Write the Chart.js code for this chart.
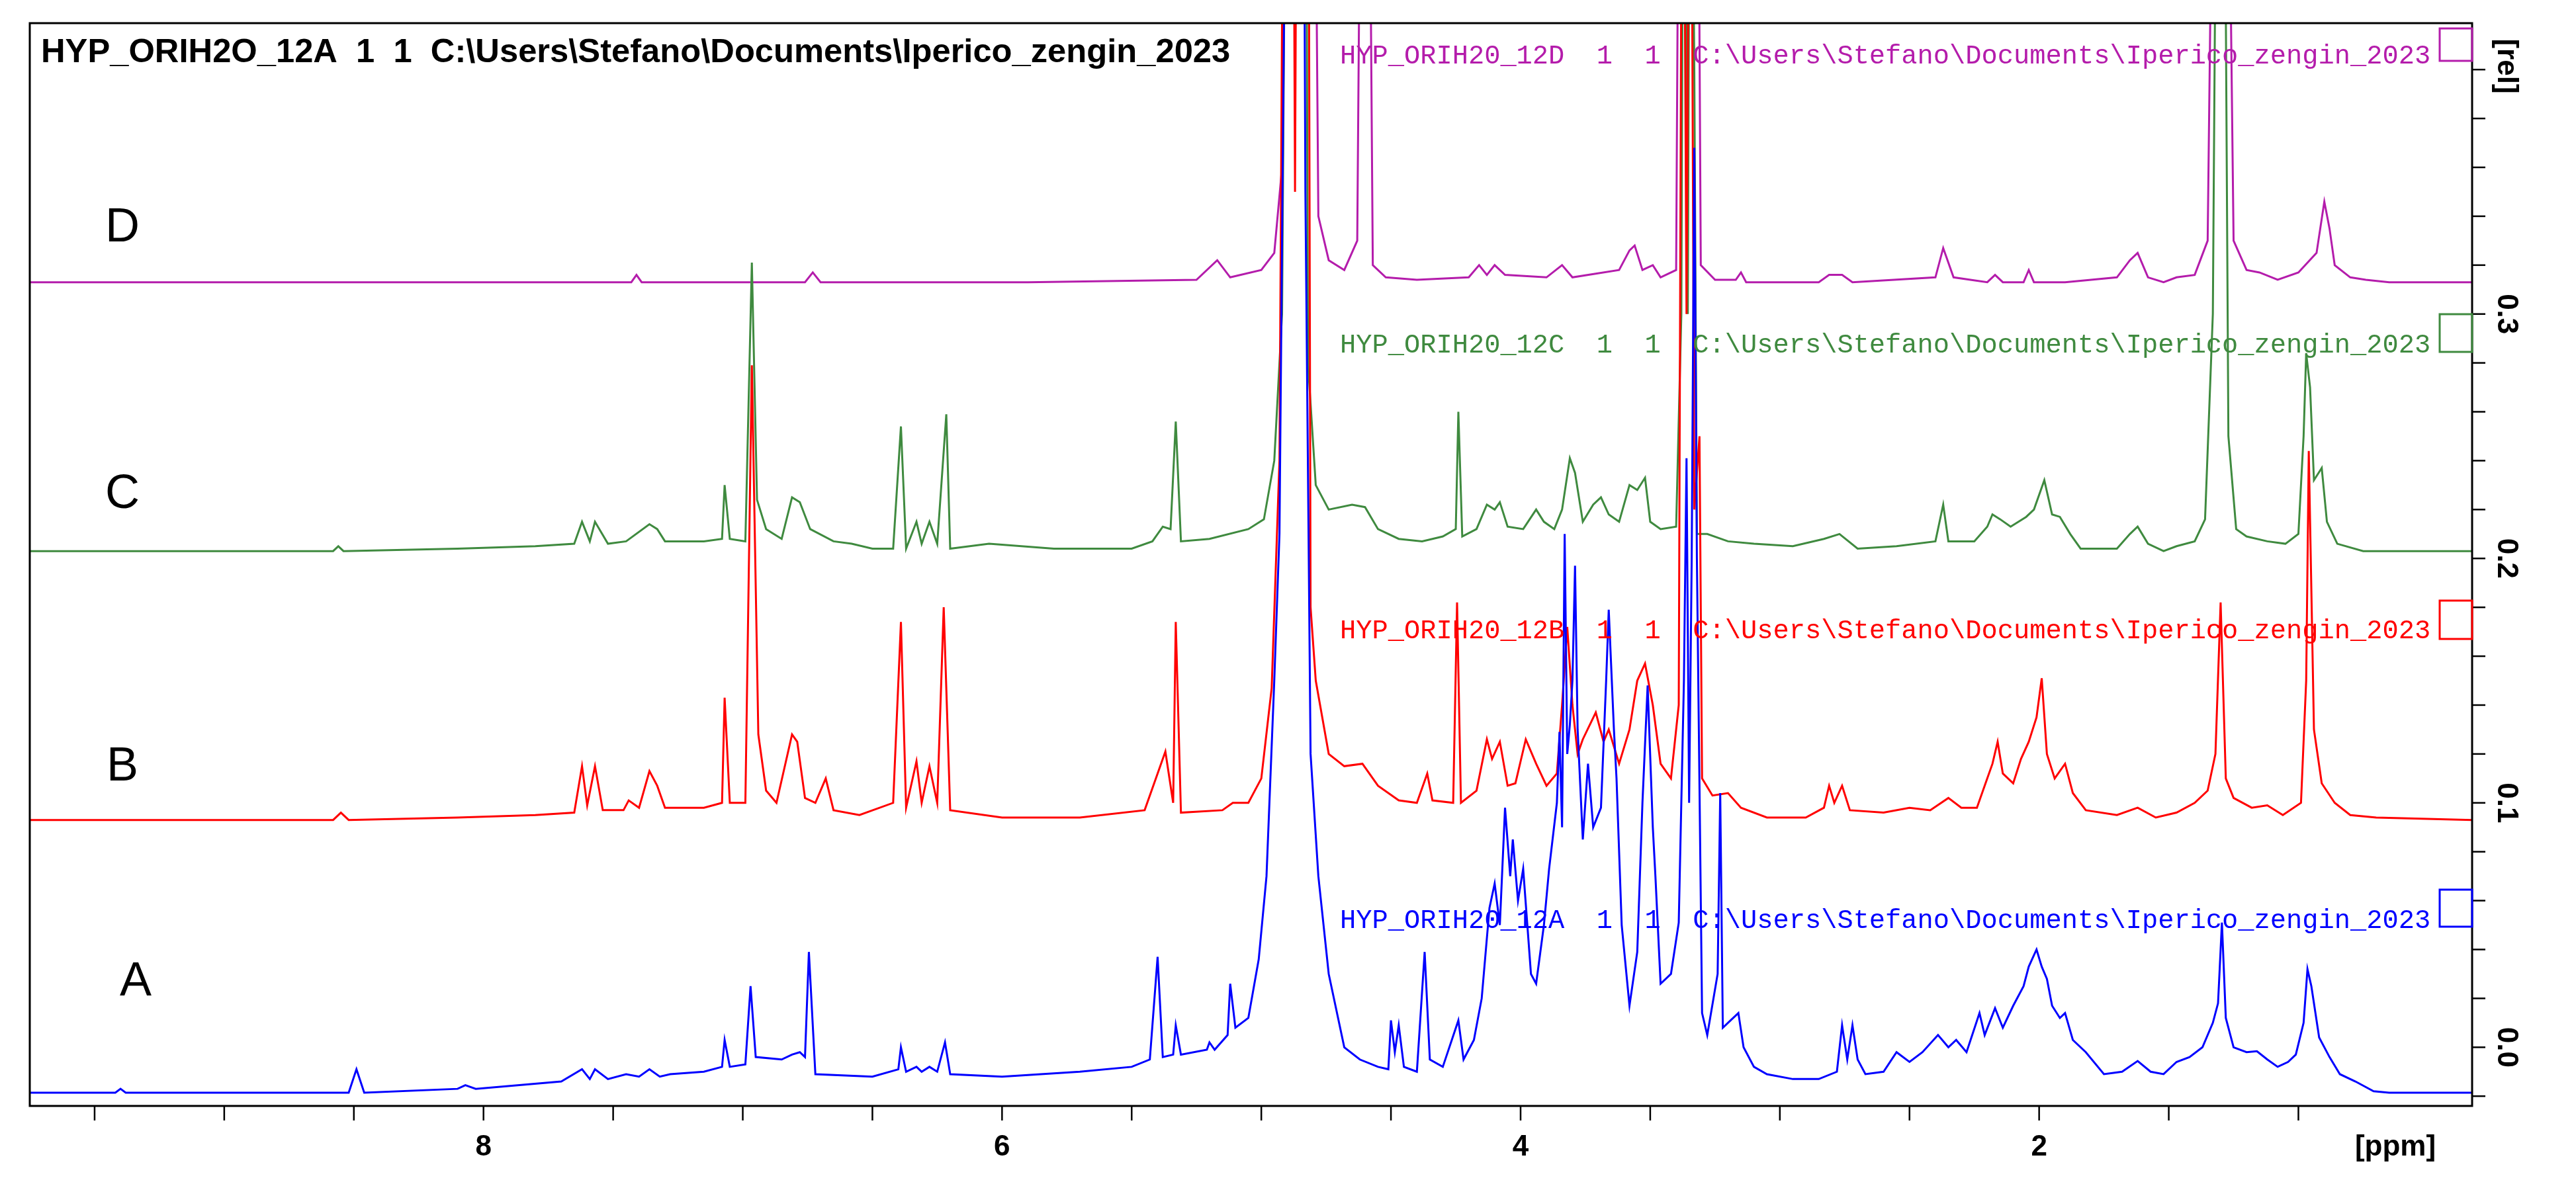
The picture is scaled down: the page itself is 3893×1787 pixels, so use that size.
<!DOCTYPE html>
<html><head><meta charset="utf-8">
<script src="https://cdn.jsdelivr.net/npm/chart.js@4.4.1/dist/chart.umd.min.js"></script>
<style>html,body{margin:0;padding:0;background:#fff}#w{width:3893px;height:1787px}</style>
</head><body><div id="w"><canvas id="c"></canvas></div>
<script>
const xTicks=[8,6,4,2];
const yTicks=[0.0,0.1,0.2,0.3];
const titleText="HYP_ORIH2O_12A  1  1  C:\\Users\\Stefano\\Documents\\Iperico_zengin_2023";
const seriesNames=["A","B","C","D"];
const seriesLabels=[
"HYP_ORIH20_12A  1  1  C:\\Users\\Stefano\\Documents\\Iperico_zengin_2023",
"HYP_ORIH20_12B  1  1  C:\\Users\\Stefano\\Documents\\Iperico_zengin_2023",
"HYP_ORIH20_12C  1  1  C:\\Users\\Stefano\\Documents\\Iperico_zengin_2023",
"HYP_ORIH20_12D  1  1  C:\\Users\\Stefano\\Documents\\Iperico_zengin_2023"];
const seriesA=[[9.75,-0.0186],[9.42,-0.0186],[9.40,-0.017],[9.38,-0.0186],[8.52,-0.0186],[8.49,-0.009],[8.46,-0.0186],[8.10,-0.017],[8.07,-0.0155],[8.03,-0.017],[7.70,-0.014],[7.62,-0.009],[7.59,-0.013],[7.57,-0.009],[7.52,-0.013],[7.45,-0.011],[7.40,-0.012],[7.36,-0.009],[7.32,-0.012],[7.28,-0.011],[7.15,-0.010],[7.08,-0.008],[7.07,0.003],[7.05,-0.008],[6.99,-0.007],[6.97,0.025],[6.95,-0.004],[6.85,-0.005],[6.81,-0.003],[6.78,-0.002],[6.76,-0.004],[6.745,0.039],[6.72,-0.011],[6.50,-0.012],[6.40,-0.009],[6.39,0.0],[6.37,-0.010],[6.33,-0.008],[6.31,-0.010],[6.28,-0.008],[6.25,-0.010],[6.22,0.002],[6.20,-0.011],[6.00,-0.012],[5.70,-0.010],[5.50,-0.008],[5.43,-0.005],[5.40,0.037],[5.38,-0.004],[5.34,-0.003],[5.33,0.009],[5.31,-0.003],[5.21,-0.001],[5.20,0.002],[5.18,-0.001],[5.13,0.005],[5.12,0.026],[5.10,0.008],[5.05,0.012],[5.01,0.036],[4.98,0.070],[4.95,0.15],[4.93,0.21],[4.91,0.45],[4.90,0.60],[4.84,0.60],[4.83,0.35],[4.81,0.12],[4.78,0.07],[4.74,0.03],[4.68,0.0],[4.62,-0.005],[4.55,-0.008],[4.51,-0.009],[4.50,0.011],[4.485,-0.002],[4.47,0.009],[4.45,-0.008],[4.40,-0.010],[4.37,0.039],[4.35,-0.005],[4.30,-0.008],[4.24,0.011],[4.22,-0.005],[4.18,0.003],[4.15,0.02],[4.12,0.057],[4.10,0.067],[4.08,0.05],[4.06,0.098],[4.04,0.07],[4.03,0.085],[4.01,0.06],[3.99,0.073],[3.96,0.03],[3.94,0.026],[3.91,0.05],[3.89,0.073],[3.86,0.10],[3.85,0.129],[3.84,0.09],[3.83,0.21],[3.82,0.12],[3.81,0.132],[3.80,0.15],[3.79,0.197],[3.78,0.13],[3.76,0.085],[3.74,0.116],[3.72,0.09],[3.69,0.098],[3.67,0.15],[3.66,0.179],[3.64,0.13],[3.63,0.11],[3.61,0.05],[3.58,0.017],[3.55,0.039],[3.53,0.10],[3.51,0.148],[3.49,0.09],[3.48,0.070],[3.46,0.026],[3.42,0.03],[3.39,0.051],[3.37,0.15],[3.36,0.241],[3.35,0.10],[3.34,0.2],[3.33,0.368],[3.32,0.2],[3.30,0.014],[3.28,0.005],[3.24,0.03],[3.23,0.104],[3.22,0.008],[3.19,0.011],[3.16,0.014],[3.14,0.0],[3.10,-0.008],[3.05,-0.011],[2.95,-0.013],[2.85,-0.013],[2.78,-0.010],[2.76,0.009],[2.74,-0.005],[2.72,0.009],[2.70,-0.005],[2.67,-0.011],[2.60,-0.010],[2.55,-0.002],[2.50,-0.006],[2.45,-0.002],[2.39,0.005],[2.35,0.0],[2.32,0.003],[2.28,-0.002],[2.23,0.014],[2.21,0.005],[2.17,0.016],[2.14,0.008],[2.10,0.017],[2.06,0.025],[2.04,0.033],[2.01,0.040],[1.99,0.033],[1.97,0.028],[1.95,0.017],[1.92,0.012],[1.90,0.014],[1.87,0.003],[1.82,-0.002],[1.75,-0.011],[1.68,-0.010],[1.62,-0.0056],[1.57,-0.010],[1.52,-0.011],[1.47,-0.006],[1.42,-0.004],[1.37,0.0],[1.33,0.01],[1.31,0.018],[1.295,0.051],[1.28,0.012],[1.25,0.0],[1.20,-0.002],[1.16,-0.0016],[1.12,-0.005],[1.08,-0.008],[1.04,-0.006],[1.01,-0.003],[0.98,0.010],[0.965,0.032],[0.95,0.025],[0.92,0.004],[0.88,-0.004],[0.84,-0.011],[0.78,-0.014],[0.71,-0.018],[0.65,-0.0186],[0.33,-0.0186]];
const seriesB=[[9.75,0.093],[8.58,0.093],[8.55,0.096],[8.52,0.093],[8.10,0.094],[7.80,0.095],[7.65,0.096],[7.62,0.115],[7.60,0.099],[7.57,0.115],[7.54,0.097],[7.46,0.097],[7.44,0.101],[7.40,0.098],[7.36,0.113],[7.33,0.107],[7.30,0.098],[7.15,0.098],[7.08,0.100],[7.07,0.143],[7.05,0.100],[6.99,0.100],[6.965,0.279],[6.94,0.128],[6.91,0.105],[6.87,0.100],[6.81,0.128],[6.79,0.125],[6.76,0.102],[6.72,0.100],[6.68,0.110],[6.65,0.097],[6.55,0.095],[6.42,0.100],[6.39,0.174],[6.37,0.098],[6.33,0.117],[6.31,0.100],[6.28,0.115],[6.25,0.100],[6.225,0.180],[6.20,0.097],[6.00,0.094],[5.70,0.094],[5.45,0.097],[5.40,0.112],[5.37,0.121],[5.34,0.100],[5.33,0.174],[5.31,0.096],[5.15,0.097],[5.11,0.100],[5.05,0.100],[5.00,0.110],[4.96,0.147],[4.93,0.24],[4.91,0.60],[4.88,0.60],[4.87,0.35],[4.86,0.60],[4.82,0.60],[4.81,0.18],[4.79,0.15],[4.74,0.12],[4.68,0.115],[4.61,0.116],[4.55,0.107],[4.47,0.101],[4.40,0.100],[4.36,0.112],[4.34,0.101],[4.26,0.100],[4.245,0.182],[4.23,0.100],[4.17,0.105],[4.13,0.126],[4.11,0.118],[4.08,0.125],[4.05,0.107],[4.02,0.108],[3.98,0.126],[3.94,0.116],[3.90,0.107],[3.86,0.112],[3.84,0.14],[3.82,0.172],[3.80,0.14],[3.78,0.12],[3.76,0.126],[3.71,0.137],[3.68,0.125],[3.66,0.130],[3.62,0.116],[3.58,0.13],[3.55,0.15],[3.52,0.157],[3.49,0.14],[3.46,0.116],[3.42,0.11],[3.39,0.14],[3.375,0.60],[3.36,0.30],[3.345,0.60],[3.33,0.22],[3.31,0.25],[3.30,0.11],[3.26,0.103],[3.20,0.104],[3.15,0.098],[3.05,0.094],[2.90,0.094],[2.83,0.098],[2.81,0.107],[2.79,0.100],[2.76,0.107],[2.73,0.097],[2.60,0.096],[2.50,0.098],[2.42,0.097],[2.35,0.102],[2.30,0.098],[2.24,0.098],[2.20,0.11],[2.18,0.116],[2.16,0.125],[2.14,0.112],[2.10,0.108],[2.07,0.118],[2.04,0.125],[2.01,0.135],[1.99,0.151],[1.97,0.12],[1.94,0.11],[1.90,0.116],[1.87,0.104],[1.82,0.097],[1.70,0.095],[1.62,0.098],[1.55,0.094],[1.47,0.096],[1.40,0.100],[1.35,0.105],[1.32,0.12],[1.30,0.182],[1.28,0.11],[1.25,0.102],[1.18,0.098],[1.12,0.099],[1.06,0.095],[0.99,0.10],[0.97,0.15],[0.96,0.244],[0.94,0.13],[0.91,0.108],[0.86,0.100],[0.80,0.095],[0.70,0.094],[0.33,0.093]];
const seriesC=[[9.75,0.203],[8.58,0.203],[8.56,0.205],[8.54,0.203],[8.10,0.204],[7.80,0.205],[7.65,0.206],[7.62,0.215],[7.59,0.207],[7.57,0.215],[7.52,0.206],[7.45,0.207],[7.36,0.214],[7.33,0.212],[7.30,0.207],[7.15,0.207],[7.08,0.208],[7.07,0.230],[7.05,0.208],[6.99,0.207],[6.965,0.321],[6.945,0.224],[6.91,0.212],[6.85,0.208],[6.81,0.225],[6.78,0.223],[6.74,0.212],[6.65,0.207],[6.58,0.206],[6.50,0.204],[6.42,0.204],[6.39,0.254],[6.37,0.204],[6.33,0.215],[6.31,0.206],[6.28,0.215],[6.25,0.206],[6.215,0.259],[6.20,0.204],[6.05,0.206],[5.80,0.204],[5.50,0.204],[5.42,0.207],[5.38,0.213],[5.35,0.212],[5.33,0.256],[5.31,0.207],[5.20,0.208],[5.05,0.212],[4.99,0.216],[4.95,0.240],[4.92,0.30],[4.90,0.60],[4.88,0.42],[4.86,0.60],[4.83,0.60],[4.82,0.28],[4.79,0.23],[4.74,0.220],[4.65,0.222],[4.60,0.221],[4.55,0.212],[4.47,0.208],[4.38,0.207],[4.30,0.209],[4.25,0.212],[4.24,0.260],[4.225,0.209],[4.17,0.212],[4.13,0.222],[4.10,0.220],[4.08,0.223],[4.05,0.213],[3.99,0.212],[3.94,0.220],[3.91,0.215],[3.87,0.212],[3.84,0.22],[3.81,0.241],[3.79,0.235],[3.76,0.215],[3.72,0.222],[3.69,0.225],[3.66,0.218],[3.62,0.215],[3.58,0.230],[3.55,0.228],[3.52,0.233],[3.50,0.215],[3.46,0.212],[3.40,0.213],[3.38,0.30],[3.37,0.60],[3.355,0.30],[3.345,0.60],[3.33,0.40],[3.32,0.21],[3.28,0.210],[3.20,0.207],[3.10,0.206],[2.95,0.205],[2.83,0.208],[2.77,0.210],[2.70,0.204],[2.55,0.205],[2.40,0.207],[2.37,0.222],[2.35,0.207],[2.25,0.207],[2.20,0.213],[2.18,0.218],[2.15,0.216],[2.11,0.213],[2.05,0.217],[2.02,0.220],[1.98,0.232],[1.95,0.218],[1.92,0.217],[1.88,0.210],[1.84,0.204],[1.70,0.204],[1.65,0.210],[1.62,0.213],[1.58,0.206],[1.52,0.203],[1.47,0.205],[1.40,0.207],[1.36,0.216],[1.33,0.30],[1.31,0.60],[1.29,0.60],[1.27,0.25],[1.24,0.212],[1.20,0.209],[1.12,0.207],[1.05,0.206],[1.00,0.210],[0.98,0.25],[0.97,0.284],[0.955,0.27],[0.94,0.232],[0.91,0.237],[0.89,0.215],[0.85,0.206],[0.75,0.203],[0.33,0.203]];
const seriesD=[[9.75,0.313],[8.20,0.313],[7.43,0.313],[7.41,0.316],[7.39,0.313],[6.76,0.313],[6.73,0.317],[6.70,0.313],[5.90,0.313],[5.25,0.314],[5.17,0.322],[5.12,0.315],[5.00,0.318],[4.95,0.325],[4.92,0.36],[4.90,0.60],[4.80,0.60],[4.78,0.34],[4.74,0.322],[4.68,0.318],[4.63,0.33],[4.61,0.60],[4.59,0.60],[4.57,0.32],[4.52,0.315],[4.40,0.314],[4.20,0.315],[4.16,0.320],[4.13,0.316],[4.10,0.320],[4.06,0.316],[3.90,0.315],[3.84,0.320],[3.80,0.315],[3.62,0.318],[3.58,0.326],[3.56,0.328],[3.53,0.318],[3.49,0.320],[3.46,0.315],[3.40,0.318],[3.385,0.60],[3.37,0.60],[3.355,0.40],[3.34,0.60],[3.32,0.60],[3.305,0.32],[3.25,0.314],[3.17,0.314],[3.15,0.317],[3.13,0.313],[2.85,0.313],[2.81,0.316],[2.76,0.316],[2.72,0.313],[2.40,0.315],[2.37,0.327],[2.33,0.315],[2.20,0.313],[2.17,0.316],[2.14,0.313],[2.06,0.313],[2.04,0.318],[2.02,0.313],[1.90,0.313],[1.70,0.315],[1.65,0.322],[1.62,0.325],[1.58,0.315],[1.52,0.313],[1.47,0.315],[1.40,0.316],[1.35,0.33],[1.32,0.60],[1.28,0.60],[1.25,0.33],[1.20,0.318],[1.15,0.317],[1.08,0.314],[1.00,0.317],[0.93,0.325],[0.90,0.346],[0.88,0.335],[0.86,0.320],[0.80,0.315],[0.74,0.314],[0.65,0.313],[0.33,0.313]];
const colors=["#0000ff","#ff0000","#3f8a3f","#b41cab"];
const allSeries=[seriesA,seriesB,seriesC,seriesD];

const datasets=allSeries.map((s,i)=>({label:seriesNames[i],data:s.map(p=>({x:p[0],y:p[1]})),borderColor:colors[i],borderWidth:3,pointRadius:0,showLine:true,tension:0,order:i,fill:false}));

const deco={id:'deco',afterDraw(ch){
 const c=ch.ctx,a=ch.chartArea,xs=ch.scales.x,ys=ch.scales.y;
 c.save();
 c.strokeStyle='#000';c.lineWidth=3;c.strokeRect(a.left,a.top,a.right-a.left,a.bottom-a.top);
 c.lineWidth=2.5;
 for(let v=1;v<=9.5;v+=0.5){const x=xs.getPixelForValue(v);if(x<a.left||x>a.right)continue;c.beginPath();c.moveTo(x,a.bottom);c.lineTo(x,a.bottom+22);c.stroke();}
 for(let k=-1;k<=20;k++){const v=k*0.02;if(v<ys.min||v>ys.max)continue;const y=ys.getPixelForValue(v);c.beginPath();c.moveTo(a.right,y);c.lineTo(a.right+20,y);c.stroke();}
 c.fillStyle='#000';c.font='bold 44px Arial, "Liberation Sans"';c.textAlign='center';c.textBaseline='middle';
 xTicks.forEach(v=>c.fillText(String(v),xs.getPixelForValue(v),1735));
 c.fillText('[ppm]',3620,1735);
 yTicks.forEach(v=>{c.save();c.translate(3787,ys.getPixelForValue(v));c.rotate(Math.PI/2);c.fillText(v.toFixed(1),0,0);c.restore();});
 c.save();c.translate(3787,100);c.rotate(Math.PI/2);c.fillText('[rel]',0,0);c.restore();
 // title
 c.textAlign='left';c.font='bold 44px Arial, "Liberation Sans"';
 let w=c.measureText(titleText).width;c.font='bold '+(44*1798/w).toFixed(1)+'px Arial, "Liberation Sans"';
 c.fillText(titleText,62,80);
 // series letters
 c.font='72px Arial, "Liberation Sans"';c.textAlign='center';
 const lp=[[205,1485],[185,1160],[185,748],[185,345]];
 seriesNames.forEach((n,i)=>c.fillText(n,lp[i][0],lp[i][1]));
 // mono labels and boxes
 const ly=[1392,954,522,85],by=[[1345,1401],[908,966],[475,532],[43,92]];
 c.textAlign='left';c.font='40px "Liberation Mono", monospace';
 let mw=c.measureText(seriesLabels[0]).width;c.font=(40*1650/mw).toFixed(1)+'px "Liberation Mono", monospace';
 seriesLabels.forEach((t,i)=>{c.fillStyle=colors[i];c.fillText(t,2025,ly[i]);c.strokeStyle=colors[i];c.lineWidth=3;c.strokeRect(3687,by[i][0],a.right-3687,by[i][1]-by[i][0]);});
 c.restore();
}};

new Chart(document.getElementById('c'),{type:'scatter',data:{datasets},
 options:{responsive:true,maintainAspectRatio:false,animation:false,
  layout:{padding:{left:45,top:35,right:157,bottom:115}},
  plugins:{legend:{display:false},tooltip:{enabled:false}},
  scales:{x:{type:'linear',reverse:true,min:0.33,max:9.75,display:false},
          y:{type:'linear',min:-0.024,max:0.419,display:false}}},
 plugins:[deco]});
</script></body></html>
